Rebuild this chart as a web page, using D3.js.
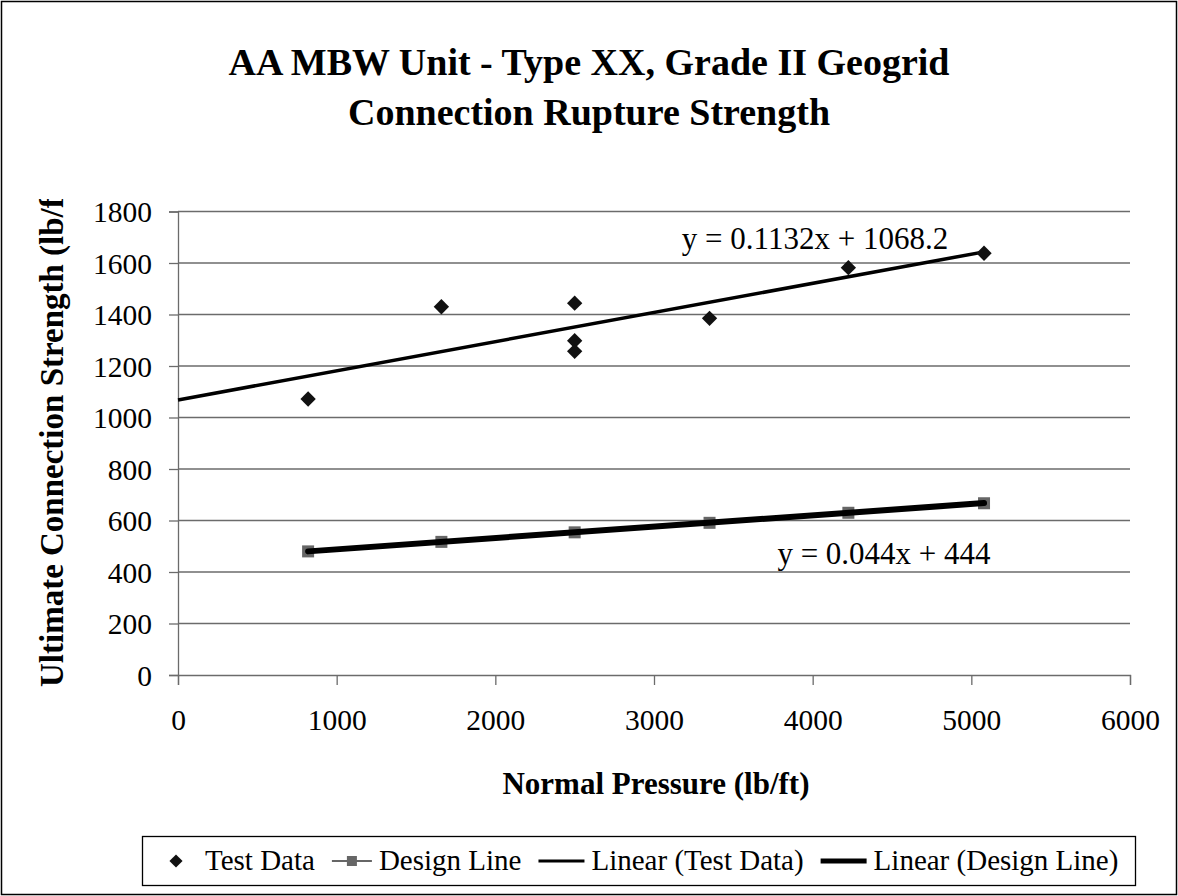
<!DOCTYPE html>
<html>
<head>
<meta charset="utf-8">
<script src="https://cdn.jsdelivr.net/npm/d3@7"></script>
</head>
<body style="margin:0;background:#fff">
<svg id="chart" width="1178" height="896"></svg>
<script>
// data
const testX = [820, 1660, 2500, 2500, 2500, 3350, 4225, 5080];
const testY = [1072, 1430, 1444, 1298, 1257, 1385, 1582, 1638];
const designX = [820, 1660, 2500, 3350, 4225, 5080];
const designY = [480, 517, 554, 591, 630, 667];
const xTicks = [0, 1000, 2000, 3000, 4000, 5000, 6000];
const yTicks = [0, 200, 400, 600, 800, 1000, 1200, 1400, 1600, 1800];
const seriesNames = ["Test Data", "Design Line", "Linear (Test Data)", "Linear (Design Line)"];

// trendline equations as shown on the chart
const testFit = { slope: 0.1132, icpt: 1068.2, from: 0, to: 5080, label: "y = 0.1132x + 1068.2" };
const designFit = { slope: 0.044, icpt: 444, from: 820, to: 5080, label: "y = 0.044x + 444" };

const FONT = "'Liberation Serif', 'Times New Roman', serif";
const svg = d3.select("#chart").style("font-family", FONT);
const W = 1178, H = 896;
const margin = { left: 178, right: 48, top: 211.5, bottom: 221 };

const x = d3.scaleLinear().domain([0, 6000]).range([margin.left, W - margin.right]);
const y = d3.scaleLinear().domain([0, 1800]).range([H - margin.bottom, margin.top]);

// outer chart border
svg.append("rect")
  .attr("x", 1.5).attr("y", 1.5)
  .attr("width", W - 3).attr("height", H - 3)
  .attr("fill", "#fff").attr("stroke", "#000").attr("stroke-width", 1.5);

// title
const title = svg.append("text")
  .attr("text-anchor", "middle")
  .style("font-family", FONT)
  .style("font-weight", "bold")
  .style("font-size", "38px")
  .attr("fill", "#000");
title.append("tspan").attr("x", 589).attr("y", 75).text("AA MBW Unit - Type XX, Grade II Geogrid");
title.append("tspan").attr("x", 589).attr("y", 125).text("Connection Rupture Strength");

// faint top edge of plot area
svg.append("line")
  .attr("x1", x(0)).attr("x2", x(6000))
  .attr("y1", y(1800)).attr("y2", y(1800))
  .attr("stroke", "#eee");

// gridlines
svg.append("g")
  .selectAll("line")
  .data(yTicks.filter((d) => d > 0))
  .enter()
  .append("line")
  .attr("x1", x(0)).attr("x2", x(6000))
  .attr("y1", (d) => y(d)).attr("y2", (d) => y(d))
  .attr("stroke", "#6b6b6b").attr("stroke-width", 1.3);

// axes
const yAxis = svg.append("g")
  .attr("transform", `translate(${x(0)},0)`)
  .call(d3.axisLeft(y).tickValues(yTicks).tickSize(9).tickPadding(17).tickFormat(d3.format("d")));
const xAxis = svg.append("g")
  .attr("transform", `translate(0,${y(0)})`)
  .call(d3.axisBottom(x).tickValues(xTicks).tickSize(10).tickPadding(24).tickFormat(d3.format("d")));

[yAxis, xAxis].forEach((g) => {
  g.attr("font-family", null).attr("font-size", null);
  g.selectAll(".domain").attr("stroke", "#6b6b6b").attr("stroke-width", 1.3);
  g.selectAll(".tick line").attr("stroke", "#6b6b6b").attr("stroke-width", 1.3);
  g.selectAll(".tick text")
    .style("font-family", FONT).style("font-size", "29.5px").attr("fill", "#000");
});
yAxis.selectAll(".tick text").attr("dy", "0.34em");
xAxis.selectAll(".tick text").attr("dy", "0.71em");

// axis titles
svg.append("text")
  .attr("x", 656).attr("y", 794)
  .attr("text-anchor", "middle")
  .style("font-family", FONT).style("font-weight", "bold").style("font-size", "31px")
  .text("Normal Pressure (lb/ft)");

svg.append("clipPath").attr("id", "yclip")
  .append("rect").attr("x", 0).attr("y", 199).attr("width", 120).attr("height", 500);
svg.append("g").attr("clip-path", "url(#yclip)")
  .append("text")
  .attr("transform", "translate(63,687) rotate(-90)")
  .attr("text-anchor", "start")
  .style("font-family", FONT).style("font-weight", "bold").style("font-size", "33px")
  .text("Ultimate Connection Strength (lb/ft)");

// design line series (gray line + squares)
const designPts = designX.map((d, i) => [d, designY[i]]);
svg.append("path")
  .datum(designPts)
  .attr("fill", "none").attr("stroke", "#666").attr("stroke-width", 2)
  .attr("d", d3.line().x((d) => x(d[0])).y((d) => y(d[1])));
svg.append("g")
  .selectAll("rect")
  .data(designPts)
  .enter()
  .append("rect")
  .attr("x", (d) => x(d[0]) - 6).attr("y", (d) => y(d[1]) - 6)
  .attr("width", 12).attr("height", 12)
  .attr("fill", "#666");

// trendlines
const trend = (f) => [[f.from, f.slope * f.from + f.icpt], [f.to, f.slope * f.to + f.icpt]];
svg.append("path")
  .datum(trend(testFit))
  .attr("fill", "none").attr("stroke", "#000").attr("stroke-width", 3.5)
  .attr("d", d3.line().x((d) => x(d[0])).y((d) => y(d[1])));
svg.append("path")
  .datum(trend(designFit))
  .attr("fill", "none").attr("stroke", "#000").attr("stroke-width", 6)
  .attr("stroke-linecap", "round")
  .attr("d", d3.line().x((d) => x(d[0])).y((d) => y(d[1])));

// test data diamonds
const diamond = d3.symbol().type(d3.symbolDiamond2).size(150);
svg.append("g")
  .selectAll("path")
  .data(testX.map((d, i) => [d, testY[i]]))
  .enter()
  .append("path")
  .attr("transform", (d) => `translate(${x(d[0])},${y(d[1])})`)
  .attr("d", diamond)
  .attr("fill", "#111");

// equation labels
svg.append("text")
  .attr("x", 815).attr("y", 249)
  .attr("text-anchor", "middle")
  .style("font-family", FONT).style("font-size", "31px")
  .text(testFit.label);
svg.append("text")
  .attr("x", 884).attr("y", 564)
  .attr("text-anchor", "middle")
  .style("font-family", FONT).style("font-size", "31px")
  .text(designFit.label);

// legend: marker sample then name, laid out left to right
const lg = svg.append("g");
lg.append("rect")
  .attr("x", 142.5).attr("y", 836.5).attr("width", 993).attr("height", 49)
  .attr("fill", "#fff").attr("stroke", "#000").attr("stroke-width", 1.3);
const ly = 861;
const markers = [
  (g, x0) => g.append("path").attr("transform", `translate(${x0 + 18},${ly})`)
    .attr("d", d3.symbol().type(d3.symbolDiamond2).size(110)).attr("fill", "#111"),
  (g, x0) => {
    g.append("line").attr("x1", x0).attr("x2", x0 + 40).attr("y1", ly).attr("y2", ly)
      .attr("stroke", "#666").attr("stroke-width", 2);
    g.append("rect").attr("x", x0 + 15).attr("y", ly - 5).attr("width", 10).attr("height", 10).attr("fill", "#666");
  },
  (g, x0) => g.append("line").attr("x1", x0).attr("x2", x0 + 46).attr("y1", ly).attr("y2", ly)
    .attr("stroke", "#000").attr("stroke-width", 3),
  (g, x0) => g.append("line").attr("x1", x0).attr("x2", x0 + 46).attr("y1", ly).attr("y2", ly)
    .attr("stroke", "#000").attr("stroke-width", 5)
];
const markerW = [40, 40, 46, 46];
let cx = 158;
seriesNames.forEach((name, i) => {
  markers[i](lg, cx);
  cx += markerW[i] + 7;
  const t = lg.append("text")
    .attr("x", cx).attr("y", ly + 9)
    .style("font-family", FONT).style("font-size", "29px")
    .text(name);
  cx += t.node().getComputedTextLength() + 17;
});
</script>
</body>
</html>
